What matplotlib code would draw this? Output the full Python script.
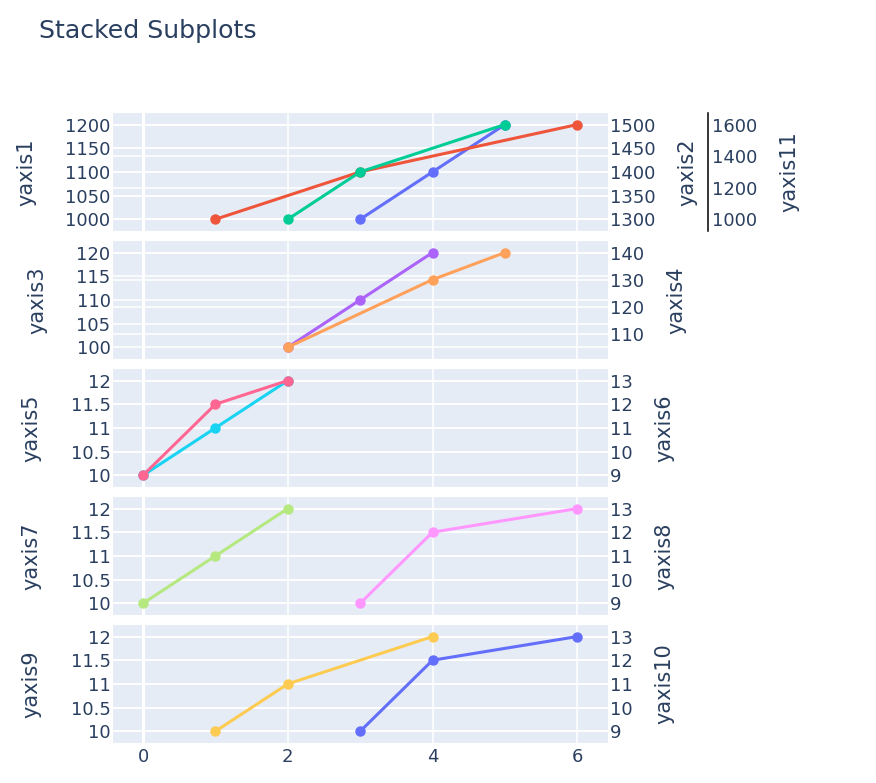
import matplotlib
matplotlib.use("Agg")
import matplotlib.pyplot as plt
import matplotlib.transforms as mtransforms
from matplotlib.ticker import MultipleLocator, FuncFormatter

# traces, one per y axis (plotly default colour cycle)
x_y1 = [3, 4, 5]
v_y1 = [1000, 1100, 1200]
x_y2 = [1, 3, 6]
v_y2 = [1300, 1400, 1500]
x_y11 = [2, 3, 5]
v_y11 = [1000, 1300, 1600]
x_y3 = [2, 3, 4]
v_y3 = [100, 110, 120]
x_y4 = [2, 4, 5]
v_y4 = [105, 130, 140]
x_y5 = [0, 1, 2]
v_y5 = [10, 11, 12]
x_y6 = [0, 1, 2]
v_y6 = [9, 12, 13]
x_y7 = [0, 1, 2]
v_y7 = [10, 11, 12]
x_y8 = [3, 4, 6]
v_y8 = [9, 12, 13]
x_y9 = [1, 2, 4]
v_y9 = [10, 11, 12]
x_y10 = [3, 4, 6]
v_y10 = [9, 12, 13]

x_ticks = [0, 2, 4, 6]

TXT = "#2a3f5f"
BG = "#E5ECF6"

W, H = 876, 783
fig = plt.figure(figsize=(W / 100, H / 100), dpi=100)

fmt = FuncFormatter(lambda v, p: "{:g}".format(v))


def style_base(ax, step):
    ax.set_facecolor(BG)
    for s in ax.spines.values():
        s.set_visible(False)
    ax.set_axisbelow(True)
    ax.grid(True, color="white", lw=1.1)
    ax.yaxis.set_major_locator(MultipleLocator(step))
    ax.yaxis.set_major_formatter(fmt)
    ax.tick_params(axis="y", length=0, pad=1.5, labelsize=13, labelcolor=TXT)
    ax.tick_params(axis="x", length=0, pad=3.5, labelsize=13, labelcolor=TXT)
    ax.margins(y=0.125)
    ax.axvline(0, color="white", lw=2.2, zorder=0.6)


def style_twin(ax, step, pad=1.5):
    for s in ax.spines.values():
        s.set_visible(False)
    ax.yaxis.set_major_locator(MultipleLocator(step))
    ax.yaxis.set_major_formatter(fmt)
    ax.tick_params(axis="y", length=0, pad=pad, labelsize=13, labelcolor=TXT)
    ax.margins(y=0.125)


def twin_grid(base, twin):
    # draw the twin axis gridlines underneath the base traces
    lo, hi = twin.get_ylim()
    twin.set_ylim(lo, hi)
    tr = mtransforms.blended_transform_factory(base.transAxes, twin.transData)
    for v in twin.get_yticks():
        if lo <= v <= hi:
            base.plot([0, 1], [v, v], transform=tr, color="white", lw=1.1, zorder=0.55)


def trace(ax, xs, ys, color):
    ax.plot(xs, ys, color=color, lw=2.2, marker="o", ms=6.5, zorder=3)


left = 112.7 / W
width = 495 / W
ph = 118.4
tops = [112.7 + 128 * i for i in range(5)]
axes = []
for i, t in enumerate(tops):
    kw = {} if i == 0 else {"sharex": axes[0]}
    ax = fig.add_axes([left, 1 - (t + ph) / H, width, ph / H], **kw)
    axes.append(ax)

rows = [
    (x_y1, v_y1, "#636EFA", 50, x_y2, v_y2, "#EF553B", 50),
    (x_y3, v_y3, "#AB63FA", 5, x_y4, v_y4, "#FFA15A", 10),
    (x_y5, v_y5, "#19D3F3", 0.5, x_y6, v_y6, "#FF6692", 1),
    (x_y7, v_y7, "#B6E880", 0.5, x_y8, v_y8, "#FF97FF", 1),
    (x_y9, v_y9, "#FECB52", 0.5, x_y10, v_y10, "#636EFA", 1),
]

for i, (ax, row) in enumerate(zip(axes, rows)):
    xa, ya, ca, sa, xb, yb, cb, sb = row
    style_base(ax, sa)
    trace(ax, xa, ya, ca)
    ax.set_ylim(ax.get_ylim())
    ax.set_ylabel("yaxis%d" % (2 * i + 1), fontsize=15, color=TXT, labelpad=21)
    tw = ax.twinx()
    style_twin(tw, sb)
    trace(tw, xb, yb, cb)
    twin_grid(ax, tw)
    tw.set_ylabel("yaxis%d" % (2 * i + 2), fontsize=15, color=TXT, labelpad=16)
    if i == 0:
        t11 = ax.twinx()
        style_twin(t11, 200, pad=3)
        t11.spines["right"].set_visible(True)
        t11.spines["right"].set_position(("axes", 1.202))
        t11.spines["right"].set_color("black")
        t11.spines["right"].set_linewidth(1.1)
        trace(t11, x_y11, v_y11, "#00CC96")
        twin_grid(ax, t11)
        t11.set_ylabel("yaxis11", fontsize=15, color=TXT, labelpad=16)
    if i < 4:
        ax.tick_params(axis="x", labelbottom=False)

axes[0].set_xlim(-0.42, 6.42)
axes[0].set_xticks(x_ticks)

fig.text(39 / W, 1 - 37.7 / H, "Stacked Subplots", fontsize=18.2, color=TXT,
         ha="left", va="baseline")

fig.savefig("out.png", dpi=100)
